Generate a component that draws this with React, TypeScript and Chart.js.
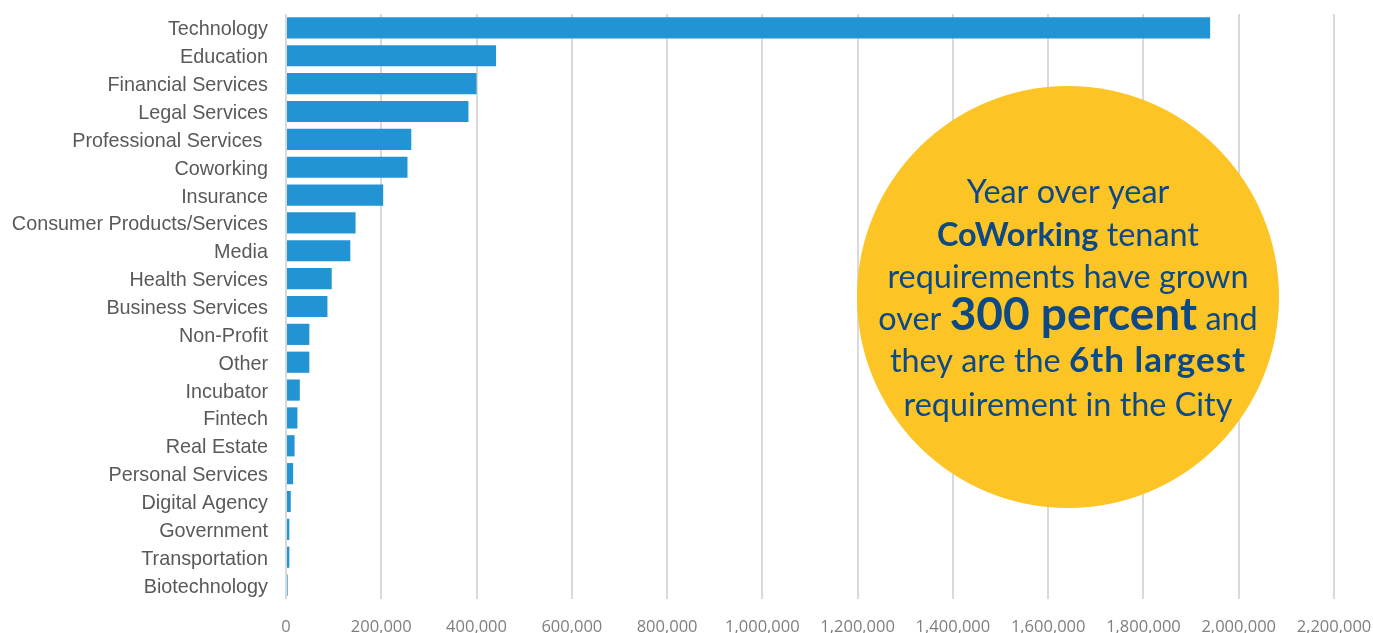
import React, { useEffect, useRef } from "react";
import { Chart, registerables } from "chart.js";

Chart.register(...registerables);

const categories = [
  "Technology",
  "Education",
  "Financial Services",
  "Legal Services",
  "Professional Services ",
  "Coworking",
  "Insurance",
  "Consumer Products/Services",
  "Media",
  "Health Services",
  "Business Services",
  "Non-Profit",
  "Other",
  "Incubator",
  "Fintech",
  "Real Estate",
  "Personal Services",
  "Digital Agency",
  "Government",
  "Transportation",
  "Biotechnology",
];

const requirementSF = [
  1940000, 441000, 400000, 383000, 263000, 255000, 204000, 146000, 135000,
  96000, 87000, 49000, 49000, 29000, 24000, 18000, 15000, 10000, 7000, 7000,
  3500,
];

const xMin = 0;
const xMax = 2200000;
const xStep = 200000;

type Seg = { t: string; bold?: boolean; size?: number; spacing?: number };
const calloutLines: Seg[][] = [
  [{ t: "Year over year" }],
  [{ t: "CoWorking", bold: true }, { t: " tenant" }],
  [{ t: "requirements have grown" }],
  [{ t: "over " }, { t: "300 percent", bold: true, size: 46 }, { t: " and" }],
  [{ t: "they are the " }, { t: "6th largest", bold: true, size: 35, spacing: 1 }],
  [{ t: "requirement in the City" }],
];

const calloutPlugin = {
  id: "callout",
  afterDraw(chart: any) {
    const ctx = chart.ctx as any;
    const cx = 1068;
    const cy = 297;
    const r = 211;
    ctx.save();
    ctx.beginPath();
    ctx.arc(cx, cy, r, 0, Math.PI * 2);
    ctx.fillStyle = "#FCC425";
    ctx.fill();
    ctx.fillStyle = "#0D4A85";
    ctx.textBaseline = "alphabetic";
    ctx.textAlign = "left";
    const baseSize = 32.4;
    const family = "Lato, 'Open Sans', sans-serif";
    const baselines = [203, 246, 288, 330, 372, 416];
    calloutLines.forEach((line, i) => {
      const fonts = line.map(
        (s) => `${s.bold ? "bold" : "normal"} ${s.size || baseSize}px ${family}`
      );
      let total = 0;
      const widths = line.map((s, j) => {
        ctx.font = fonts[j];
        ctx.letterSpacing = `${s.spacing || 0}px`;
        const w = ctx.measureText(s.t).width;
        total += w;
        return w;
      });
      let x = cx - total / 2;
      line.forEach((s, j) => {
        ctx.font = fonts[j];
        ctx.letterSpacing = `${s.spacing || 0}px`;
        ctx.fillText(s.t, x, baselines[i]);
        x += widths[j];
      });
    });
    ctx.letterSpacing = "0px";
    ctx.restore();
  },
};

export default function App() {
  const ref = useRef<HTMLCanvasElement>(null);
  useEffect(() => {
    document.body.style.margin = "0";
    const chart = new Chart(ref.current!, {
      type: "bar",
      data: {
        labels: categories,
        datasets: [
          {
            data: requirementSF,
            backgroundColor: "#2394D3",
            borderWidth: 0,
            categoryPercentage: 1,
            barPercentage: 0.76,
          },
        ],
      },
      options: {
        indexAxis: "y",
        animation: false,
        responsive: false,
        maintainAspectRatio: false,
        layout: { padding: { top: 14, right: 39, bottom: 0, left: 0 } },
        plugins: { legend: { display: false }, tooltip: { enabled: false } },
        scales: {
          x: {
            min: xMin,
            max: xMax,
            border: { display: false },
            grid: { color: "#D9D9D9", lineWidth: 2, drawTicks: false },
            ticks: {
              stepSize: xStep,
              padding: 18,
              color: "#7F7F7F",
              font: { family: "'Open Sans', sans-serif", size: 16.5 },
              maxRotation: 0,
              callback: (v: any) => Number(v).toLocaleString("en-US"),
            },
            afterFit: (s: any) => {
              s.height = 34;
              s.paddingLeft = 0;
              s.paddingRight = 0;
            },
          },
          y: {
            border: { display: false },
            grid: { display: false, drawTicks: false },
            ticks: {
              padding: 18,
              labelOffset: 2,
              color: "#595959",
              font: { family: "'Liberation Sans', Arial, sans-serif", size: 19.8 },
              autoSkip: false,
            },
            afterFit: (s: any) => {
              s.width = 286;
              s.paddingTop = 0;
              s.paddingBottom = 0;
            },
          },
        },
      },
      plugins: [calloutPlugin],
    });
    return () => chart.destroy();
  }, []);
  return (
    <div style={{ width: 1373, height: 633 }}>
      <canvas ref={ref} width={1373} height={633} />
    </div>
  );
}
